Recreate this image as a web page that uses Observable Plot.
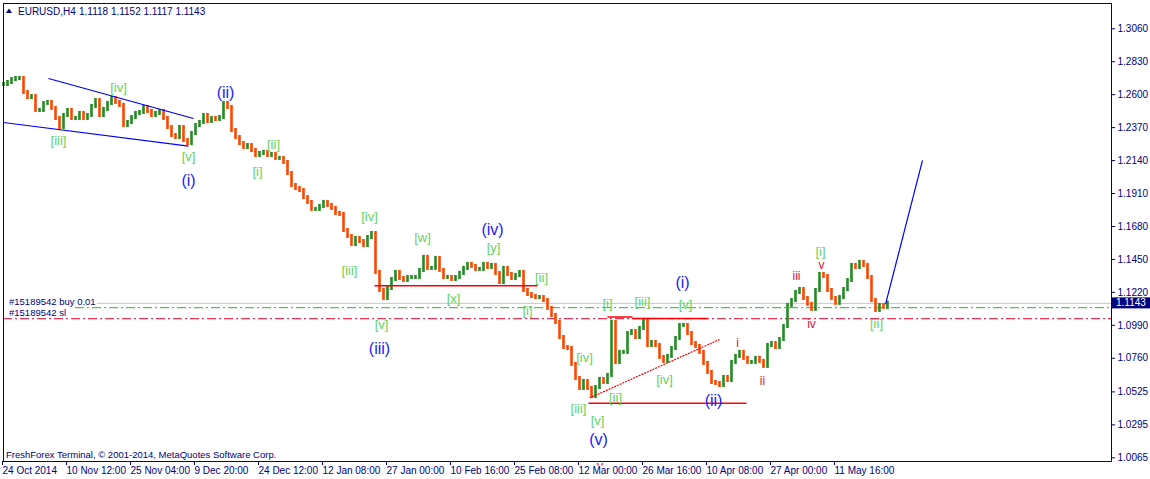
<!DOCTYPE html>
<html><head><meta charset="utf-8">
<script src="https://cdn.jsdelivr.net/npm/d3@7"></script>
<script src="https://cdn.jsdelivr.net/npm/@observablehq/plot@0.6"></script>
<style>body{margin:0;background:#fff;overflow:hidden}</style>
</head><body><div id="chart"></div>
<script>
// EURUSD H4 closes, one value per 4 H4 bars
const closes = [
1.2671,1.2685,1.2706,1.2713,1.2713,1.2615,1.2580,1.2587,1.2490,1.2490,
1.2539,1.2546,1.2504,1.2434,1.2371,1.2455,1.2490,1.2434,1.2434,1.2469,
1.2434,1.2455,1.2518,1.2559,1.2455,1.2497,1.2539,1.2573,1.2546,1.2525,
1.2385,1.2406,1.2441,1.2469,1.2476,1.2511,1.2483,1.2455,1.2469,1.2483,
1.2434,1.2371,1.2315,1.2301,1.2371,1.2280,1.2259,1.2329,1.2385,1.2406,
1.2455,1.2413,1.2434,1.2427,1.2441,1.2539,1.2511,1.2350,1.2301,1.2259,
1.2231,1.2245,1.2210,1.2176,1.2190,1.2197,1.2176,1.2183,1.2155,1.2155,
1.2127,1.2050,1.1966,1.1945,1.1931,1.1882,1.1848,1.1799,1.1799,1.1820,
1.1848,1.1827,1.1806,1.1771,1.1764,1.1652,1.1610,1.1554,1.1596,1.1575,
1.1547,1.1603,1.1631,1.1359,1.1233,1.1177,1.1247,1.1310,1.1359,1.1317,
1.1303,1.1324,1.1324,1.1324,1.1373,1.1464,1.1387,1.1387,1.1457,1.1373,
1.1324,1.1324,1.1310,1.1324,1.1352,1.1387,1.1415,1.1401,1.1380,1.1380,
1.1415,1.1394,1.1408,1.1352,1.1289,1.1387,1.1345,1.1317,1.1338,1.1359,
1.1233,1.1205,1.1191,1.1184,1.1184,1.1163,1.1108,1.1059,1.1010,1.0905,
1.0835,1.0828,1.0717,1.0619,1.0549,1.0598,1.0549,1.0493,1.0556,1.0612,
1.0591,1.0640,1.1010,1.0731,1.0801,1.0801,1.0933,1.0947,1.0905,1.0968,
1.1024,1.0849,1.0870,1.0849,1.0766,1.0738,1.0773,1.0828,1.0898,1.0989,
1.0989,1.0933,1.0863,1.0842,1.0801,1.0724,1.0661,1.0591,1.0584,1.0570,
1.0626,1.0605,1.0731,1.0773,1.0801,1.0759,1.0731,1.0731,1.0759,1.0738,
1.0703,1.0849,1.0863,1.0835,1.0891,1.0982,1.1129,1.1163,1.1219,1.1240,
1.1177,1.1136,1.1101,1.1233,1.1345,1.1331,1.1233,1.1177,1.1143,1.1184,
1.1240,1.1303,1.1408,1.1394,1.1429,1.1408,1.1324,1.1163,1.1094,1.1129,
1.1115,1.1143
];
const barsPerPoint = 4;

const yTicks = [1.3060,1.2830,1.2600,1.2370,1.2140,1.1910,1.1680,1.1450,1.1220,1.0990,1.0760,1.0525,1.0295,1.0065];
const xTickBars = [1,65,129,193,257,321,385,449,513,577,641,705,769,833];
const xTickLabels = ["24 Oct 2014","10 Nov 12:00","25 Nov 04:00","9 Dec 20:00","24 Dec 12:00","12 Jan 08:00","27 Jan 00:00","10 Feb 16:00","25 Feb 08:00","12 Mar 00:00","26 Mar 16:00","10 Apr 08:00","27 Apr 00:00","11 May 16:00"];

const symbolTitle = "EURUSD,H4";
const ohlc = ["1.1118","1.1152","1.1117","1.1143"];
const lastPrice = 1.1143;
const buyPrice = 1.1113;
const slPrice = 1.1036;

// wave labels: bar index, price
const greenLabels = [
 {t:"[iv]",bar:115,price:1.2650},{t:"[iii]",bar:55,price:1.2280},{t:"[v]",bar:185,price:1.2169},
 {t:"[ii]",bar:270,price:1.2252},{t:"[i]",bar:254,price:1.2064},{t:"[iv]",bar:366,price:1.1750},
 {t:"[iii]",bar:346,price:1.1373},{t:"[v]",bar:378,price:1.0996},{t:"[w]",bar:419,price:1.1603},
 {t:"[x]",bar:450,price:1.1177},{t:"[y]",bar:490,price:1.1533},{t:"[ii]",bar:538,price:1.1324},
 {t:"[i]",bar:524,price:1.1094},{t:"[i]",bar:604,price:1.1143},{t:"[iii]",bar:639,price:1.1157},
 {t:"[v]",bar:682,price:1.1136},{t:"[iv]",bar:581,price:1.0766},{t:"[ii]",bar:612,price:1.0486},
 {t:"[iii]",bar:575,price:1.0410},{t:"[v]",bar:594,price:1.0326},{t:"[iv]",bar:661,price:1.0612},
 {t:"[i]",bar:817,price:1.1505},{t:"[ii]",bar:873,price:1.1003}
];
const blueLabels = [
 {t:"(i)",bar:185,price:1.2001},{t:"(ii)",bar:222,price:1.2615},{t:"(iii)",bar:376,price:1.0828},
 {t:"(iv)",bar:489,price:1.1659},{t:"(v)",bar:595,price:1.0193},{t:"(i)",bar:679,price:1.1289},
 {t:"(ii)",bar:710,price:1.0459}
];
const redLabels = [
 {t:"iii",bar:793,price:1.1331},{t:"v",bar:818,price:1.1410},{t:"iv",bar:808,price:1.0996},
 {t:"i",bar:734,price:1.0863},{t:"ii",bar:759,price:1.0598}
];

const blueLines = [
 {bar1:45,p1:1.2713,bar2:190,p2:1.2434},
 {bar1:0,p1:1.2406,bar2:185,p2:1.2241},
 {bar1:882,p1:1.1136,bar2:919,p2:1.2141}
];
const redLines = [
 {bar1:371,p1:1.1266,bar2:534,p2:1.1266},
 {bar1:604,p1:1.1048,bar2:629,p2:1.1048},
 {bar1:629,p1:1.1038,bar2:704,p2:1.1038},
 {bar1:585,p1:1.0445,bar2:743,p2:1.0445}
];
const redTrend = [{bar1:586,p1:1.0482,bar2:716,p2:1.0891}];

const GREEN = "#228b22", ORANGE = "#ff4500", NAVY = "#000080";
const FONT = "Liberation Sans, Arial, sans-serif";

const bars = closes.map((c, i) => {
  const o = i ? closes[i - 1] : c;
  return {bar: i * barsPerPoint, hi: Math.max(o, c), lo: Math.min(o, c), up: c >= o};
});

const plot = Plot.plot({
  width: 1150, height: 479,
  marginLeft: 3, marginRight: 39, marginTop: 3, marginBottom: 18,
  style: {fontFamily: FONT, fontSize: "10px", color: NAVY, background: "#fff"},
  x: {domain: [0, 1108]},
  y: {domain: [1.00392, 1.32366]},
  marks: [
    Plot.ruleY([lastPrice], {x1: 94, x2: 1108, stroke: "#c8c8c8"}),
    Plot.ruleY([buyPrice], {x1: 72, x2: 1108, stroke: "#22bb22", strokeDasharray: "9,3,2,3"}),
    Plot.ruleY([slPrice], {x1: 0, x2: 1108, stroke: "#e8002a", strokeDasharray: "9,3,2,3"}),
    Plot.ruleX(bars.filter(d => d.up), {x: "bar", y1: "hi", y2: "lo", stroke: GREEN, strokeWidth: 2.6, insetTop: -2, insetBottom: -2}),
    Plot.ruleX(bars.filter(d => !d.up), {x: "bar", y1: "hi", y2: "lo", stroke: ORANGE, strokeWidth: 2.6, insetTop: -2, insetBottom: -2}),
    Plot.link(blueLines, {x1: "bar1", y1: "p1", x2: "bar2", y2: "p2", stroke: "#0000ff", strokeWidth: 1.2}),
    Plot.link(redLines, {x1: "bar1", y1: "p1", x2: "bar2", y2: "p2", stroke: "#ff0000", strokeWidth: 1.5}),
    Plot.link(redTrend, {x1: "bar1", y1: "p1", x2: "bar2", y2: "p2", stroke: "#ff0000", strokeWidth: 1.2, strokeDasharray: "2,1"}),
    Plot.text(greenLabels, {x: "bar", y: "price", text: "t", fill: "#5fd35f", fontSize: 13, fontFamily: FONT}),
    Plot.text(blueLabels, {x: "bar", y: "price", text: "t", fill: "#1a1aff", fontSize: 16, fontFamily: FONT}),
    Plot.text(redLabels, {x: "bar", y: "price", text: "t", fill: "#dc143c", fontSize: 12, fontFamily: FONT}),
    Plot.frame({stroke: NAVY}),
    Plot.axisY(yTicks, {anchor: "right", tickSize: 3, tickPadding: 3, tickFormat: d => d.toFixed(4), fill: NAVY, stroke: NAVY}),
    Plot.axisX(xTickBars, {anchor: "bottom", tickSize: 4, tickPadding: 1, textAnchor: "start", dx: -2,
      tickFormat: d => xTickLabels[xTickBars.indexOf(d)], fill: NAVY, stroke: NAVY})
  ]
});
document.getElementById("chart").appendChild(plot);

const svg = d3.select(plot);
const yS = plot.scale("y");
function addText(x, y, str, size, fill, anchor) {
  return svg.append("text").attr("x", x).attr("y", y).attr("fill", fill).attr("font-size", size)
    .attr("font-family", FONT).attr("text-anchor", anchor || "start").text(str);
}
// current price box
const yLast = yS.apply(lastPrice);
svg.append("rect").attr("x", 1111).attr("y", yLast - 5.5).attr("width", 39).attr("height", 11).attr("fill", NAVY);
addText(1116, yLast + 3.5, lastPrice.toFixed(4), 10, "#fff");
// header
svg.append("path").attr("d", "M6,13 L9,8.5 L12,13 Z").attr("fill", NAVY);
addText(18, 14.5, symbolTitle, 10, NAVY);
addText(79, 14.5, ohlc.join(" "), 10, NAVY);
// order labels
addText(9, 305, "#15189542 buy 0.01", 9.5, NAVY);
addText(9, 316, "#15189542 sl", 9.5, NAVY);
// copyright
addText(6, 458, "FreshForex Terminal, \u00a9 2001-2014, MetaQuotes Software Corp.", 9.5, NAVY);
// clipped red v below the frame
svg.append("clipPath").attr("id", "vclip").append("rect").attr("x", 590).attr("y", 461.5).attr("width", 20).attr("height", 4);
addText(600, 470, "v", 13, "#ff0000", "middle").attr("clip-path", "url(#vclip)");
</script>
</body></html>
